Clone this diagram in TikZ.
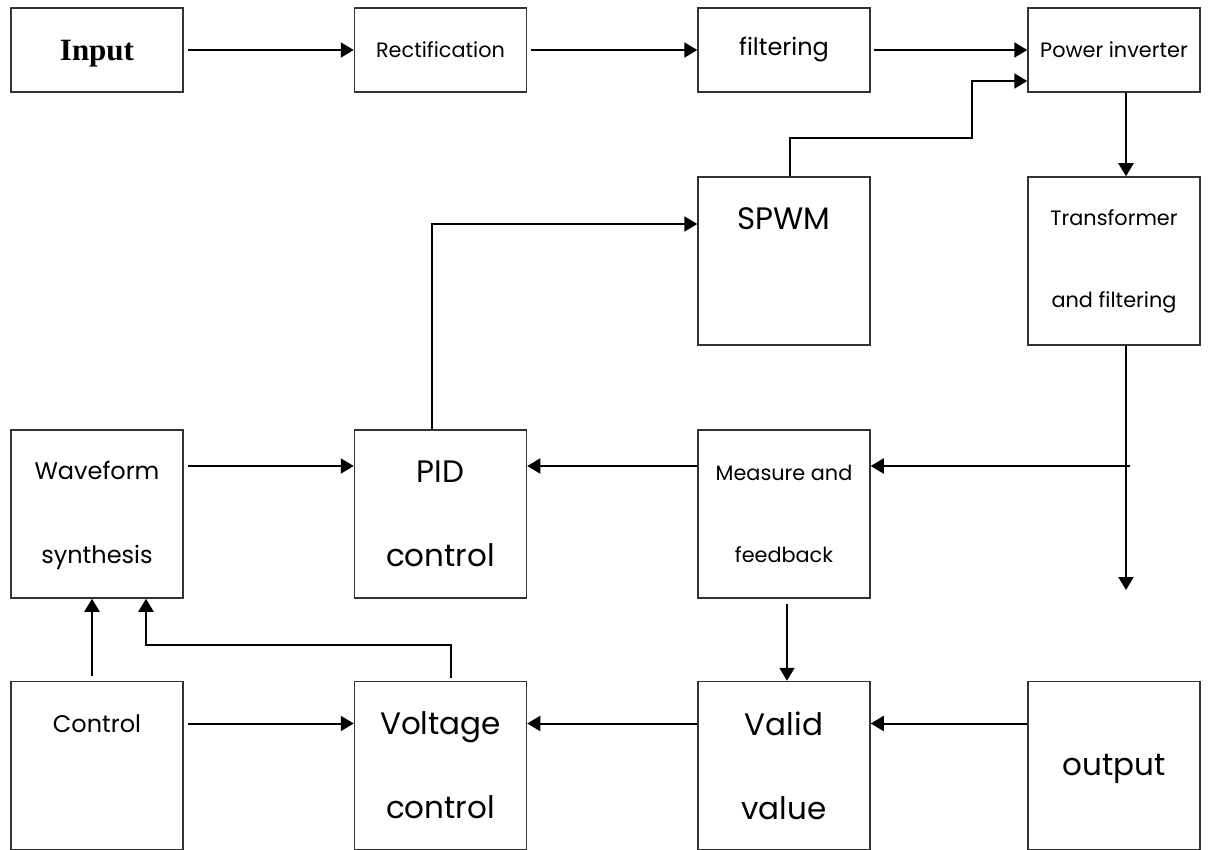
\documentclass[tikz,border=0pt]{standalone}
\usepackage{fontspec}
\setmainfont{Poppins}
\newfontfamily\inputfont{Liberation Serif}
\usetikzlibrary{arrows.meta}

\newcommand\smalltxt{\fontsize{10.4}{41}\selectfont}
\newcommand\midtxt{\fontsize{12}{42}\selectfont}
\newcommand\bigtxt{\fontsize{15.5}{42}\selectfont}

\tikzset{
	blk/.style={draw=black!80, line width=0.75pt, minimum width=86pt,
		minimum height=42pt, align=center, inner sep=0pt},
	tallblk/.style={blk, minimum height=84pt},
	arr/.style={line width=1pt, -{Triangle[length=6.5pt, width=7.5pt]}},
	low/.style={text depth=3pt}
}

\begin{document}
\begin{tikzpicture}[x=0.5pt, y=-0.5pt]
	\useasboundingbox (0,0) rectangle (1217,850);

	% top row
	\node[blk, text height=14pt, font=\inputfont\bfseries\fontsize{15.5}{18}\selectfont] (inp) at (97,50) {Input};
	\node[blk, font=\smalltxt] (rect) at (440.5,50) {Rectification};
	\node[blk, font=\midtxt] (filt) at (784,50) {filtering};
	\node[blk, font=\smalltxt] (pinv) at (1114,50) {Power inverter};

	% second row
	\node[tallblk, font=\bigtxt] (spwm) at (784,261) {SPWM\\\mbox{}};
	\node[tallblk, font=\smalltxt] (trans) at (1114,261) {Transformer\\and filtering};

	% third row
	\node[tallblk, font=\midtxt, text depth=2pt] (wave) at (97,514) {Waveform\\synthesis};
	\node[tallblk, font=\bigtxt] (pid) at (440.5,514) {PID\\control};
	\node[tallblk, font=\smalltxt] (meas) at (784,514) {Measure and\\feedback};

	% bottom row
	\node[tallblk, font=\midtxt] (ctrl) at (97,765.5) {Control\\\mbox{}};
	\node[tallblk, font=\bigtxt] (volt) at (440.5,765.5) {Voltage\\control};
	\node[tallblk, font=\bigtxt] (valid) at (784,765.5) {Valid\\value};
	\node[tallblk, font=\bigtxt, text height=14pt] (out) at (1114,765.5) {output};

	\coordinate (bend) at (972,138);
	\coordinate (tap) at (1130,466);
	\coordinate (tend) at (1126,590);

	% power path
	\draw[arr, shorten <=2pt] (inp) -- (rect);
	\draw[arr, shorten <=2pt] (rect) -- (filt);
	\draw[arr, shorten <=1.5pt] (filt) -- (pinv);
	\draw[arr] ([xshift=3pt]spwm.north) |- (bend) |- ([yshift=-15.5pt]pinv.west);
	\draw[arr] ([xshift=6pt]pinv.south) -- ([xshift=6pt]trans.north);
	\draw[arr] ([xshift=6pt]trans.south) -- (tend);

	% feedback loop
	\draw[arr] (tap) -- (tap -| meas.east);
	\draw[arr] ([yshift=24pt]meas.west) -- ([yshift=24pt]pid.east);
	\draw[arr, shorten <=2pt] ([yshift=24pt]wave.east) -- ([yshift=24pt]pid.west);
	\draw[arr] ([xshift=-4.25pt]pid.north) |- ([yshift=18.5pt]spwm.west);
	\draw[arr, shorten <=2.5pt] ([xshift=1.5pt]meas.south) -- ([xshift=1.5pt]valid.north);

	% bottom row
	\draw[arr] ([yshift=21pt]out.west) -- ([yshift=21pt]valid.east);
	\draw[arr] ([yshift=21pt]valid.west) -- ([yshift=21pt]volt.east);
	\draw[arr, shorten <=2pt] ([yshift=21pt]ctrl.east) -- ([yshift=21pt]volt.west);
	\draw[arr, shorten <=2.5pt] ([xshift=-2.5pt]ctrl.north) -- ([xshift=-2.5pt]wave.south);
	\draw[arr, shorten <=1.5pt] ([xshift=5pt]volt.north) -- ++(0,18pt) -| ([xshift=24.5pt]wave.south);
\end{tikzpicture}
\end{document}
